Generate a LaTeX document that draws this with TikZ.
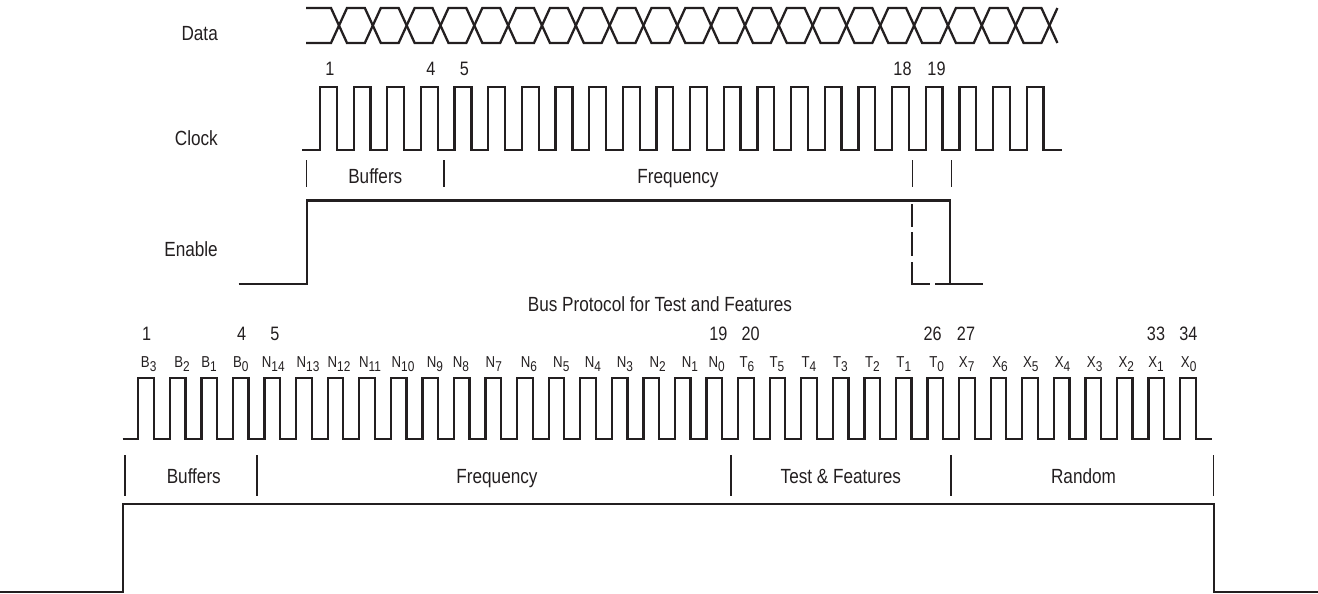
\documentclass[tikz,border=0pt]{standalone}
\usepackage{fontspec}
\setmainfont[FakeStretch=0.837]{Liberation Sans}
\definecolor{ink}{RGB}{35,31,32}
\newcommand\bitlab[2]{#1\raisebox{-4.3pt}{\fontsize{14.2}{15}\selectfont #2}}
\begin{document}
\begin{tikzpicture}[x=1pt,y=-1pt,line join=miter,
  sig/.style={draw=ink,line width=2.3pt},
  tickmark/.style={draw=ink,line width=1.1pt},
  lab/.style={text=ink,font=\fontsize{20.5}{22}\selectfont,anchor=base,inner sep=0pt},
  rlab/.style={lab,anchor=base east},
  num/.style={text=ink,font=\fontsize{19.4}{21}\selectfont,anchor=base,inner sep=0pt},
  bit/.style={text=ink,font=\fontsize{15.8}{17}\selectfont,anchor=base,inner sep=0pt}]
\useasboundingbox (0,0) rectangle (1318,594);

% ---------- signal names ----------
\node[rlab] (ldata) at (218,40.7) {Data};
\node[rlab] (lclock) at (218,145.7) {Clock};
\node[rlab] (lenable) at (218,256) {Enable};

% ---------- Data bus ----------
\draw[sig] (306,8) -- (331,8)
  \foreach \j in {0,...,9}{
    -- ({339+2*\j*33.83+8},43) -- ({339+(2*\j+1)*33.83-8},43)
    -- ({339+(2*\j+1)*33.83+8},8) -- ({339+(2*\j+2)*33.83-8},8) }
  -- ({339+20*33.83+8},43) -- ({339+21*33.83-8},43) -- ({339+21*33.83+8},8);
\draw[sig] (306,43) -- (331,43)
  \foreach \j in {0,...,9}{
    -- ({339+2*\j*33.83+8},8) -- ({339+(2*\j+1)*33.83-8},8)
    -- ({339+(2*\j+1)*33.83+8},43) -- ({339+(2*\j+2)*33.83-8},43) }
  -- ({339+20*33.83+8},8) -- ({339+21*33.83-8},8) -- ({339+21*33.83+8},43);

% ---------- top clock ----------
\foreach \x/\t in {329.9/1, 431/4, 464.5/5, 902.5/18, 936.5/19}
  \node[num] (tn\t) at (\x,76) {\t};
\draw[sig] (302,150)
  \foreach \i in {0,...,21}{ -- ({320+\i*33.65},150) -- ++(0,-63) -- ++(16.8,0) -- ++(0,63) }
  -- (1062,150);

% top sections
\foreach \x in {306.7,444,912.3,951.7}
  \draw[tickmark] (\x,160) -- (\x,187);
\node[lab] (tbuf) at (375.3,183.3) {Buffers};
\node[lab] (tfreq) at (678,183.3) {Frequency};

% ---------- top enable ----------
\draw[sig] (238.5,284) -- (306.7,284) -- (306.7,200.5) -- (950,200.5) -- (950,284) -- (983,284);
\draw[sig] (935,284) -- (950,284);
\draw[sig] (912.3,204) -- (912.3,227);
\draw[sig] (912.3,232) -- (912.3,255.5);
\draw[sig] (912.3,262) -- (912.3,284) -- (930,284);

% ---------- bottom ----------
\node[lab] (title) at (660,311.7) {Bus Protocol for Test and Features};

\foreach \x/\t in {146.7/1, 241.7/4, 275/5, 718.3/19, 750.7/20, 932.7/26, 966/27, 1156/33, 1188.3/34}
  \node[num] (bn\t) at (\x,340) {\t};

\foreach \x/\l/\s [count=\k] in {
  148.7/B/3, 182/B/2, 209/B/1, 240.8/B/0,
  273.3/N/14, 308/N/13, 339/N/12, 370/N/11, 403/N/10, 435/N/9, 461/N/8,
  493.8/N/7, 529/N/6, 561.3/N/5, 593/N/4, 625/N/3, 657.7/N/2, 690/N/1, 716.7/N/0,
  747/T/6, 777/T/5, 809/T/4, 840.5/T/3, 872.5/T/2, 903.8/T/1, 936.7/T/0,
  966.7/X/7, 1000/X/6, 1030.8/X/5, 1062.5/X/4, 1094.7/X/3, 1126.3/X/2, 1156/X/1, 1188.7/X/0}
  \node[bit] (bit\k) at (\x,367.3) {\bitlab{\l}{\s}};

\draw[sig] (122.7,439)
  \foreach \i in {0,...,33}{ -- ({138.3+\i*31.57},439) -- ++(0,-61.3) -- ++(15.6,0) -- ++(0,61.3) }
  -- (1211.7,439);

\foreach \x in {125,257,731,951,1213.3}
  \draw[tickmark] (\x,455) -- (\x,495.5);
\node[lab] (bbuf) at (193.8,483.3) {Buffers};
\node[lab] (bfreq) at (497,483.3) {Frequency};
\node[lab] (btest) at (840.8,483.3) {Test \& Features};
\node[lab] (brand) at (1083.5,483.3) {Random};

\draw[sig] (0,592) -- (123.3,592) -- (123.3,504) -- (1214.3,504) -- (1214.3,592) -- (1318,592);
\end{tikzpicture}
\end{document}
